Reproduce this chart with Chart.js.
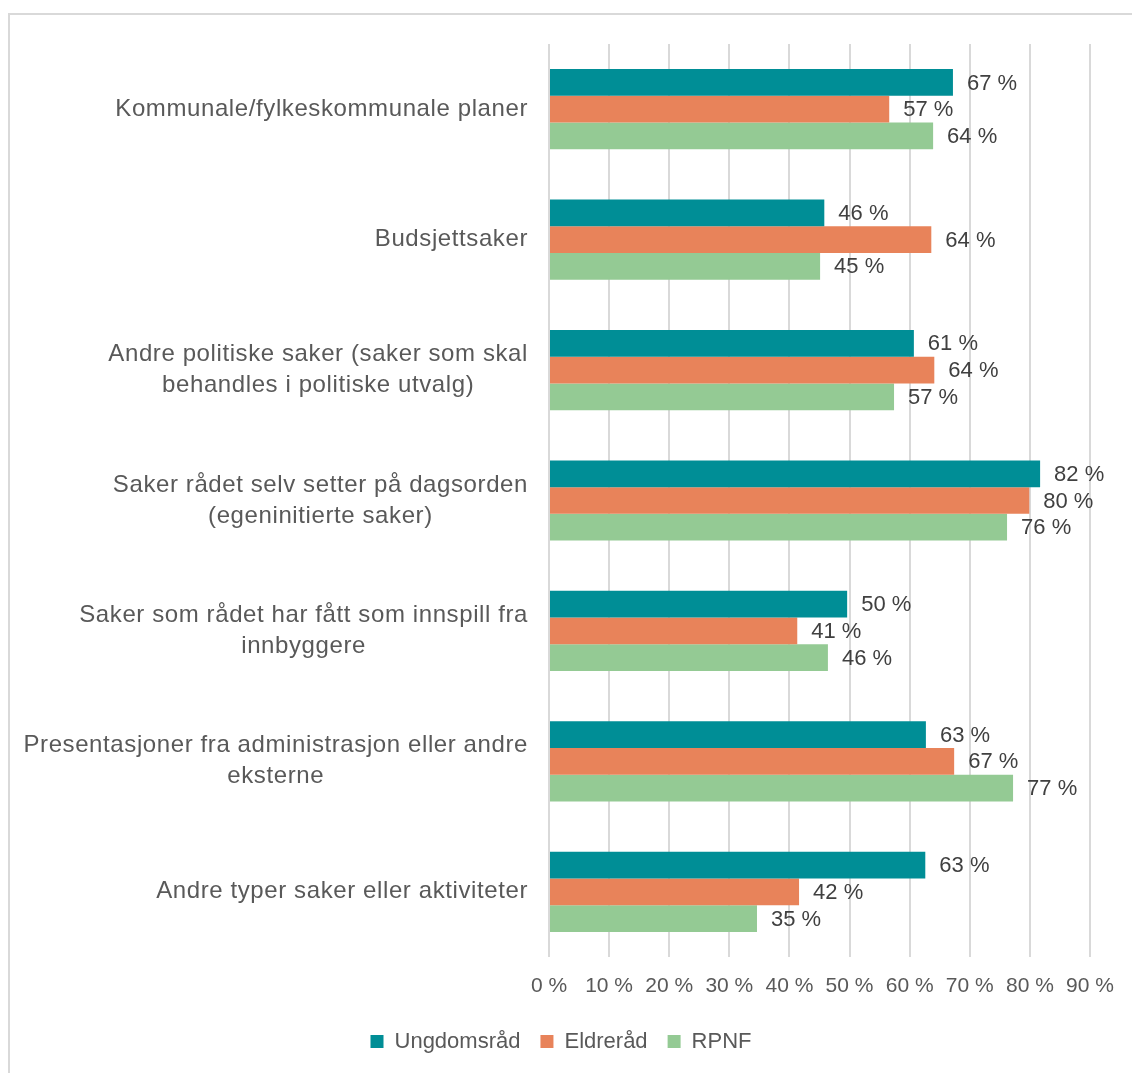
<!DOCTYPE html>
<html>
<head>
<meta charset="utf-8">
<script src="https://cdn.jsdelivr.net/npm/chart.js@4"></script>
<style>
  html, body { margin: 0; padding: 0; background: #fff; overflow: hidden; }
  #frame { position: absolute; left: 8px; top: 13px; width: 1300px; height: 1300px;
           border-top: 2px solid #d9d9d9; border-left: 2px solid #d9d9d9; }
  #c { position: absolute; left: 0; top: 0; }
</style>
</head>
<body>
<div id="frame"></div>
<canvas id="c" width="1132" height="1073"></canvas>
<script>
const categories = [
  ["Kommunale/fylkeskommunale planer"],
  ["Budsjettsaker"],
  ["Andre politiske saker (saker som skal", "behandles i politiske utvalg)"],
  ["Saker rådet selv setter på dagsorden", "(egeninitierte saker)"],
  ["Saker som rådet har fått som innspill fra", "innbyggere"],
  ["Presentasjoner fra administrasjon eller andre", "eksterne"],
  ["Andre typer saker eller aktiviteter"]
];
const seriesNames = ["Ungdomsråd", "Eldreråd", "RPNF"];
const ungdomsrad = [67.2, 45.8, 60.7, 81.7, 49.6, 62.7, 62.6];
const eldrerad   = [56.6, 63.6, 64.1, 79.9, 41.3, 67.4, 41.6];
const rpnf       = [63.9, 45.1, 57.4, 76.2, 46.4, 77.2, 34.6];
const xTicks = [0, 10, 20, 30, 40, 50, 60, 70, 80, 90];

const colors = ['#008E96', '#E8835A', '#94CA94'];

const categoryLabelPlugin = {
  id: 'categoryLabels',
  afterDraw(chart) {
    const ctx = chart.ctx;
    const yScale = chart.scales.y;
    ctx.save();
    ctx.font = '24px "Liberation Sans", Arial, sans-serif';
    ctx.fillStyle = '#595959';
    ctx.letterSpacing = '0.6px';
    ctx.textBaseline = 'middle';
    ctx.textAlign = 'center';
    const rightEdge = 528;
    const lineH = 31;
    categories.forEach((lines, i) => {
      const yc = yScale.getPixelForValue(i);
      const maxW = Math.max(...lines.map(l => ctx.measureText(l).width));
      const cx = rightEdge - maxW / 2;
      const y0 = yc - (lines.length - 1) * lineH / 2;
      lines.forEach((l, j) => ctx.fillText(l, cx, y0 + j * lineH));
    });
    ctx.restore();
  }
};

const dataLabelPlugin = {
  id: 'dataLabels',
  afterDatasetsDraw(chart) {
    const ctx = chart.ctx;
    ctx.save();
    ctx.font = '22px "Liberation Sans", Arial, sans-serif';
    ctx.fillStyle = '#404040';
    ctx.textBaseline = 'middle';
    ctx.textAlign = 'left';
    chart.data.datasets.forEach((ds, di) => {
      const meta = chart.getDatasetMeta(di);
      meta.data.forEach((el, i) => {
        ctx.fillText(Math.round(ds.data[i]) + ' %', el.x + 14, el.y + 1);
      });
    });
    ctx.restore();
  }
};

const padLeft = 32;

new Chart(document.getElementById('c'), {
  type: 'bar',
  data: {
    labels: categories.map(l => l.join(' ')),
    datasets: [
      { label: seriesNames[0], data: ungdomsrad, backgroundColor: colors[0] },
      { label: seriesNames[1], data: eldrerad,   backgroundColor: colors[1] },
      { label: seriesNames[2], data: rpnf,       backgroundColor: colors[2] }
    ]
  },
  options: {
    indexAxis: 'y',
    responsive: false,
    animation: false,
    devicePixelRatio: 1,
    layout: { padding: { left: padLeft, right: 42, top: 44, bottom: 10.5 } },
    datasets: { bar: { categoryPercentage: 0.615, barPercentage: 1.0 } },
    scales: {
      x: {
        min: 0, max: 90,
        afterBuildTicks(scale) { scale.ticks = xTicks.map(v => ({ value: v })); },
        afterFit(scale) { scale.height = 53.5; },
        ticks: {
          autoSkip: false, maxRotation: 0, padding: 17,
          color: '#595959',
          font: { family: '"Liberation Sans", Arial, sans-serif', size: 21 },
          callback: v => v + ' %'
        },
        grid: { color: '#d9d9d9', lineWidth: 2, drawTicks: false },
        border: { display: false }
      },
      y: {
        afterFit(scale) { scale.width = 549 - padLeft; },
        ticks: { display: false },
        grid: { display: false },
        border: { display: false }
      }
    },
    plugins: {
      legend: {
        position: 'bottom',
        labels: {
          boxWidth: 13, boxHeight: 13, padding: 20,
          color: '#595959',
          font: { family: '"Liberation Sans", Arial, sans-serif', size: 22 }
        }
      },
      tooltip: { enabled: false }
    }
  },
  plugins: [categoryLabelPlugin, dataLabelPlugin]
});
</script>
</body>
</html>
